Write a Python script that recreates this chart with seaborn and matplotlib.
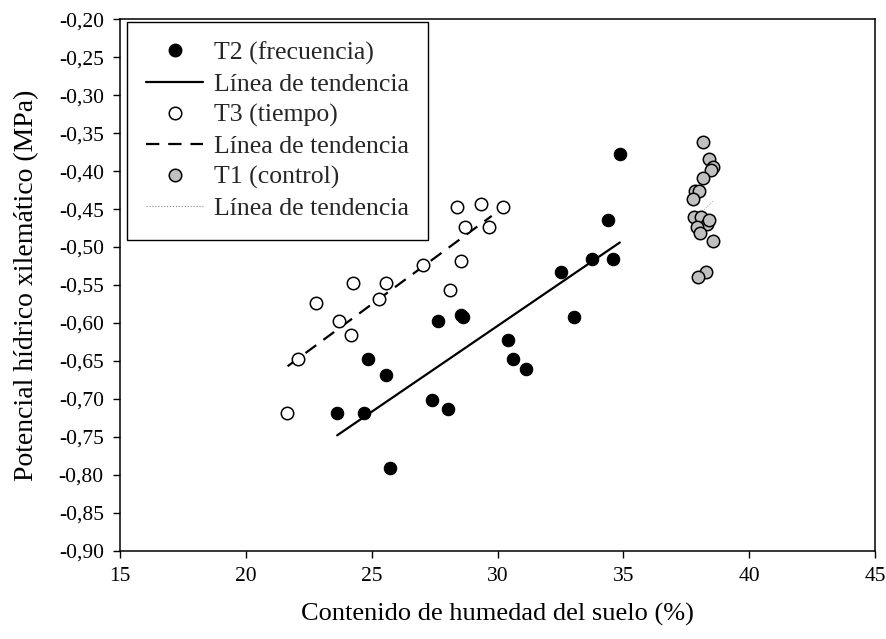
import matplotlib
matplotlib.use("Agg")
import matplotlib.pyplot as plt
from matplotlib.lines import Line2D
import seaborn as sns

# ---- data ----
t2_x = [23.61, 24.71, 24.84, 25.56, 25.73, 27.38, 27.65, 28.03, 28.53, 28.64,
        30.40, 30.63, 31.12, 32.51, 33.02, 33.77, 34.40, 34.60, 34.86]
t2_y = [-0.719, -0.719, -0.647, -0.668, -0.791, -0.702, -0.598, -0.713, -0.590, -0.592,
        -0.622, -0.647, -0.661, -0.533, -0.592, -0.516, -0.464, -0.516, -0.377]

t3_x = [21.62, 22.08, 22.79, 23.70, 24.18, 24.24, 25.30, 25.56, 27.05, 28.11,
        28.38, 28.53, 28.71, 29.33, 29.67, 30.23]
t3_y = [-0.719, -0.647, -0.574, -0.598, -0.616, -0.547, -0.568, -0.547, -0.523, -0.557,
        -0.447, -0.519, -0.474, -0.443, -0.474, -0.447]

t1_x = [38.18, 38.41, 38.57, 38.47, 38.15, 37.84, 38.00, 37.78, 37.82, 38.08,
        38.31, 38.41, 37.91, 38.04, 38.57, 38.28, 37.98]
t1_y = [-0.361, -0.384, -0.395, -0.399, -0.409, -0.426, -0.426, -0.437, -0.460, -0.460,
        -0.469, -0.464, -0.473, -0.482, -0.492, -0.533, -0.540]

# trend line end points
t2_trend_x = [23.63, 34.86]
t2_trend_y = [-0.748, -0.494]
t3_trend_x = [21.66, 29.77]
t3_trend_y = [-0.657, -0.459]
t1_trend_x = [37.78, 38.57]
t1_trend_y = [-0.465, -0.439]

x_ticks = [15, 20, 25, 30, 35, 40, 45]
x_tick_labels = ["15", "20", "25", "30", "35", "40", "45"]
y_ticks = [-0.20, -0.25, -0.30, -0.35, -0.40, -0.45, -0.50, -0.55,
           -0.60, -0.65, -0.70, -0.75, -0.80, -0.85, -0.90]
y_tick_labels = ["-0,20", "-0,25", "-0,30", "-0,35", "-0,40", "-0,45", "-0,50", "-0,55",
                 "-0,60", "-0,65", "-0,70", "-0,75", "-0,80", "-0,85", "-0,90"]

legend_labels = ["T2 (frecuencia)", "Línea de tendencia", "T3 (tiempo)",
                 "Línea de tendencia", "T1 (control)", "Línea de tendencia"]

x_label = "Contenido de humedad del suelo (%)"
y_label = "Potencial hídrico xilemático (MPa)"

# ---- styling ----
sns.set_theme(style="ticks")
plt.rcParams["font.family"] = ["Liberation Serif", "DejaVu Serif"]
plt.rcParams["axes.linewidth"] = 1.1

fig = plt.figure(figsize=(8.86, 6.39), dpi=100)
ax = fig.add_axes([120 / 886, 1 - 550.7 / 639, 755 / 886, 531.4 / 639])

GRAY = "#c0c0c0"
ms = 80

# trend lines
sns.lineplot(x=t2_trend_x, y=t2_trend_y, ax=ax, color="black", lw=1.6, zorder=2)
sns.lineplot(x=t3_trend_x, y=t3_trend_y, ax=ax, color="black", lw=1.6, zorder=2)
ax.lines[-1].set_dashes((6, 4))
sns.lineplot(x=t1_trend_x, y=t1_trend_y, ax=ax, color="#888888", lw=0.6, zorder=2)
ax.lines[-1].set_linestyle(":")

# points
sns.scatterplot(x=t2_x, y=t2_y, ax=ax, color="black", edgecolor="black",
                s=ms, linewidth=0.8, zorder=3)
sns.scatterplot(x=t3_x, y=t3_y, ax=ax, color="white", edgecolor="black",
                s=ms, linewidth=1.1, zorder=3)
sns.scatterplot(x=t1_x, y=t1_y, ax=ax, color=GRAY, edgecolor="black",
                s=ms, linewidth=1.1, zorder=3)

ax.set_xlim(15, 45)
ax.set_ylim(-0.90, -0.20)
ax.set_xticks(x_ticks)
ax.set_xticklabels(x_tick_labels)
ax.set_yticks(y_ticks)
ax.set_yticklabels(y_tick_labels)
ax.tick_params(axis="both", direction="out", length=4.7, width=1.0,
               labelsize=15.5, pad=7, colors="black")
for sp in ax.spines.values():
    sp.set_visible(True)
    sp.set_color("black")

ax.set_xlabel(x_label, fontsize=19, labelpad=12, color="black")
ax.set_ylabel(y_label, fontsize=20, labelpad=14, color="black")

handles = [
    Line2D([], [], ls="none", marker="o", markersize=9, markerfacecolor="black",
           markeredgecolor="black"),
    Line2D([], [], color="black", lw=1.6),
    Line2D([], [], ls="none", marker="o", markersize=9, markerfacecolor="white",
           markeredgecolor="black", markeredgewidth=1.1),
    Line2D([], [], color="black", lw=1.6, dashes=(6, 4)),
    Line2D([], [], ls="none", marker="o", markersize=9, markerfacecolor=GRAY,
           markeredgecolor="black", markeredgewidth=1.1),
    Line2D([], [], color="#888888", lw=0.8, ls=":"),
]
leg = ax.legend(handles, legend_labels, loc="upper left",
                bbox_to_anchor=(7 / 755, 1 - 2.7 / 531.4), borderaxespad=0,
                fontsize=18.5, frameon=True, fancybox=False, framealpha=1,
                edgecolor="black", handlelength=2.2, handletextpad=0.42,
                labelspacing=0.31, borderpad=0.75)
leg.get_frame().set_linewidth(1.0)

fig.savefig("out.png", dpi=100, facecolor="white")
